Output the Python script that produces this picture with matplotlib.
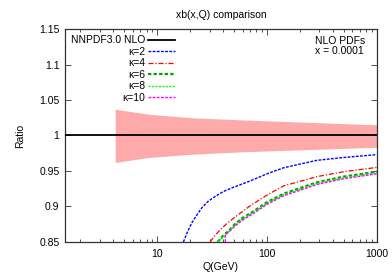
import numpy as np
import matplotlib.pyplot as plt
from matplotlib.ticker import FuncFormatter, LogLocator, MultipleLocator

plt.rcParams['font.family'] = ['Liberation Sans', 'DejaVu Sans']

# NNPDF3.0 NLO uncertainty band (ratio to central)
Q_band = [4.15, 8.34, 20.7, 58.9, 1000]
band_up = [1.037, 1.030, 1.025, 1.022, 1.015]
band_lo = [0.962, 0.969, 0.9736, 0.977, 0.9834]

Q_ref = [1.45, 1000]
r_ref = [1.0, 1.0]

# kappa curves
Q_k2 = [17.35, 19.0, 20.7, 23.0, 25.5, 29.0, 33.7, 40.0, 47.7, 70.5, 100, 142, 285, 500, 1000]
r_k2 = [0.85, 0.865, 0.877, 0.888, 0.898, 0.907, 0.914, 0.921, 0.926, 0.936, 0.946, 0.9545, 0.965, 0.969, 0.973]

Q_k4 = [30.3, 34.0, 38.7, 44.0, 51.2, 60.0, 70.5, 100, 142, 285, 500, 1000]
r_k4 = [0.85, 0.860, 0.869, 0.877, 0.885, 0.893, 0.901, 0.916, 0.929, 0.942, 0.949, 0.955]

Q_k6 = [35.6, 40.0, 45.4, 51.0, 58.9, 75.2, 100, 142, 285, 500, 1000]
r_k6 = [0.85, 0.859, 0.8665, 0.875, 0.883, 0.893, 0.906, 0.918, 0.934, 0.942, 0.949]

Q_k8 = [36.0, 40.0, 45.4, 51.0, 58.9, 75.2, 100, 142, 285, 500, 1000]
r_k8 = [0.85, 0.8575, 0.865, 0.8735, 0.8815, 0.8915, 0.9045, 0.9165, 0.9325, 0.9405, 0.9475]

Q_k10 = [41.8, 41.8, 45.4, 51.0, 58.9, 75.2, 100, 142, 285, 500, 1000]
r_k10 = [0.85, 0.860, 0.865, 0.872, 0.880, 0.890, 0.903, 0.915, 0.931, 0.939, 0.946]

fig = plt.figure(figsize=(3.92, 2.74), dpi=100)
ax = fig.add_axes([0.166, 0.117, 0.795, 0.777])

ax.fill_between(Q_band, band_lo, band_up, color='#ffaaaa', lw=0, zorder=1)
ax.plot(Q_ref, r_ref, color='black', lw=1.3, label='NNPDF3.0 NLO', zorder=3)
ax.plot(Q_k2, r_k2, color='#0000ff', lw=1.0, ls=(0, (2, 1)), label='κ=2', zorder=4)
ax.plot(Q_k4, r_k4, color='#ff0000', lw=0.9, ls=(0, (4, 1.5, 1, 1.5)), label='κ=4', zorder=4)
ax.plot(Q_k6, r_k6, color='#00a000', lw=1.6, ls=(0, (1.5, 1)), label='κ=6', zorder=4)
ax.plot(Q_k8, r_k8, color='#00ff00', lw=1.0, ls=(0, (1.5, 1)), label='κ=8', zorder=4)
ax.plot(Q_k10, r_k10, color='#ff00ff', lw=1.0, ls=(0, (2, 1)), label='κ=10', zorder=4)

ax.set_xscale('log')
ax.set_xlim(1.45, 1000)
ax.set_ylim(0.85, 1.15)
ax.yaxis.set_major_locator(MultipleLocator(0.05))
ax.yaxis.set_major_formatter(FuncFormatter(lambda v, p: '%g' % round(v, 2)))
ax.xaxis.set_major_locator(LogLocator(base=10))
ax.xaxis.set_minor_locator(LogLocator(base=10, subs=np.arange(2, 10)))
ax.xaxis.set_major_formatter(FuncFormatter(lambda v, p: '%d' % v))

ax.tick_params(which='both', direction='in', top=True, right=True,
               labelsize=7.5, colors='#333333', labelcolor='black')
ax.tick_params(which='major', length=4, width=0.6)
ax.tick_params(axis='x', which='major', pad=5)
ax.tick_params(axis='y', which='major', pad=4)
ax.tick_params(which='minor', length=2, width=0.6)
for s in ax.spines.values():
    s.set_color('#333333')
    s.set_linewidth(0.9)

ax.set_title('xb(x,Q) comparison', fontsize=7.5, pad=8)
ax.set_xlabel('Q(GeV)', fontsize=7.5, labelpad=2)
ax.set_ylabel('Ratio', fontsize=7.5, labelpad=10)

ax.legend(loc='upper left', bbox_to_anchor=(-0.008, 1.01), frameon=False,
          markerfirst=False, fontsize=7.5, handlelength=2.6,
          handletextpad=0.3, labelspacing=0.15, borderpad=0.3)

ax.text(0.802, 0.965, 'NLO PDFs\nx = 0.0001', transform=ax.transAxes,
        fontsize=7.5, va='top', ha='left', linespacing=1.0)

fig.savefig('out.png', dpi=100)
